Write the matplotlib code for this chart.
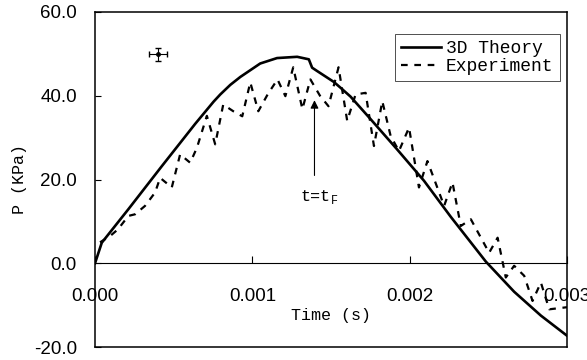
import matplotlib
matplotlib.use("Agg")
import matplotlib.pyplot as plt
import numpy as np

# Theory curve (time in ms, pressure in kPa)
theory_t = [0.0, 0.043, 0.212, 0.425, 0.637, 0.754, 0.796, 0.86, 0.924, 1.05, 1.157,
            1.285, 1.359, 1.38, 1.412, 1.518, 1.561, 1.624, 1.752, 1.92, 2.091,
            2.261, 2.484, 2.664, 2.834, 3.0]
theory_p = [0.0, 4.9, 12.9, 23.2, 33.3, 38.6, 40.3, 42.6, 44.5, 47.7, 49.0,
            49.3, 48.7, 46.7, 45.9, 43.3, 41.9, 39.8, 34.4, 27.2, 19.7,
            11.1, 0.4, -6.8, -12.5, -17.3]

# Experiment
exp_t = [0.032, 0.096, 0.146, 0.212, 0.255, 0.318, 0.382, 0.414, 0.488, 0.541, 0.605,
         0.648, 0.711, 0.764, 0.815, 0.879, 0.936, 0.987, 1.038, 1.10, 1.16, 1.21,
         1.26, 1.318, 1.369, 1.43, 1.484, 1.548, 1.603, 1.656, 1.72, 1.773, 1.826,
         1.879, 1.932, 1.996, 2.059, 2.113, 2.219, 2.272, 2.325, 2.389, 2.505, 2.559,
         2.611, 2.664, 2.728, 2.781, 2.834, 2.887, 3.0]
exp_p = [5.0, 6.5, 8.1, 11.3, 11.7, 13.7, 16.9, 20.4, 18.1, 26.0, 24.0,
         27.6, 35.2, 28.4, 37.9, 36.3, 35.1, 43.2, 36.3, 40.5, 43.9, 39.9,
         46.8, 36.8, 43.9, 40.0, 37.5, 46.8, 34.0, 40.3, 40.7, 28.0, 38.7,
         30.4, 26.8, 32.4, 18.1, 24.4, 13.7, 19.3, 8.9, 10.5, 2.5, 6.1,
         -3.4, -0.6, -3.0, -9.0, -4.6, -11.0, -10.5]

# Error bar sample
err_t, err_p = 0.401, 49.9
err_dt, err_dp = 0.055, 1.6

# Annotation
tf_t, tf_p = 1.395, 39.6
tf_text_p = 15.8

xticks = [0.0, 0.001, 0.002, 0.003]
xtick_labels = ["0.000", "0.001", "0.002", "0.003"]
yticks = [-20, 0, 20, 40, 60]
ytick_labels = ["-20.0", "0.0", "20.0", "40.0", "60.0"]

ms = 1e-3
mono = "Liberation Mono"
sans = "Liberation Sans"

fig = plt.figure(figsize=(5.87, 3.60), dpi=100)
ax = fig.add_axes([95 / 587, 1 - 347 / 360, (567 - 95) / 587, (347 - 12) / 360])

ax.plot(np.array(theory_t) * ms, theory_p, color="black", lw=1.9, label="3D Theory",
        solid_joinstyle="round")
ax.plot(np.array(exp_t) * ms, exp_p, color="black", lw=1.6, ls=(0, (3, 3)),
        label="Experiment")
ax.errorbar(err_t * ms, err_p, xerr=err_dt * ms, yerr=err_dp, fmt="o", ms=2.5,
            color="black", lw=0.8, capsize=2.5)

ax.annotate("", xy=(tf_t * ms, tf_p), xytext=(tf_t * ms, tf_text_p + 4.5),
            arrowprops=dict(arrowstyle="-|>", color="black", lw=0.8,
                            mutation_scale=12))
ax.text(tf_t * ms + 0.00003, tf_text_p, "t=t$_\\mathregular{F}$", family=mono,
        fontsize=12, ha="center", va="center")

ax.set_xlim(0, 0.003)
ax.set_ylim(-20, 60)
for s in ax.spines.values():
    s.set_linewidth(1.1)

ax.set_xticks([])
ax.set_yticks(yticks)
ax.set_yticklabels(ytick_labels, fontsize=13.5, family=sans)
ax.tick_params(axis="y", direction="in", length=4, pad=13, width=0.8)
ax.set_ylabel("P (KPa)", family=mono, fontsize=12, labelpad=5)

sec = ax.secondary_xaxis(0.25)
sec.spines["bottom"].set_linewidth(0.8)
sec.set_xticks(xticks)
sec.set_xticklabels(xtick_labels, fontsize=13.5, family=sans)
sec.tick_params(axis="x", direction="in", length=5, pad=18, width=0.8)
sec.set_xlabel("Time (s)", family=mono, fontsize=12, labelpad=2)

leg = ax.legend(loc="upper right", bbox_to_anchor=(0.985, 0.935),
                prop=dict(family=mono, size=13), frameon=True, fancybox=False,
                edgecolor="black", handlelength=2.2, handletextpad=0.3,
                borderpad=0.35, labelspacing=0.05, borderaxespad=0)
leg.get_frame().set_linewidth(0.6)

fig.savefig("out.png", dpi=100)
